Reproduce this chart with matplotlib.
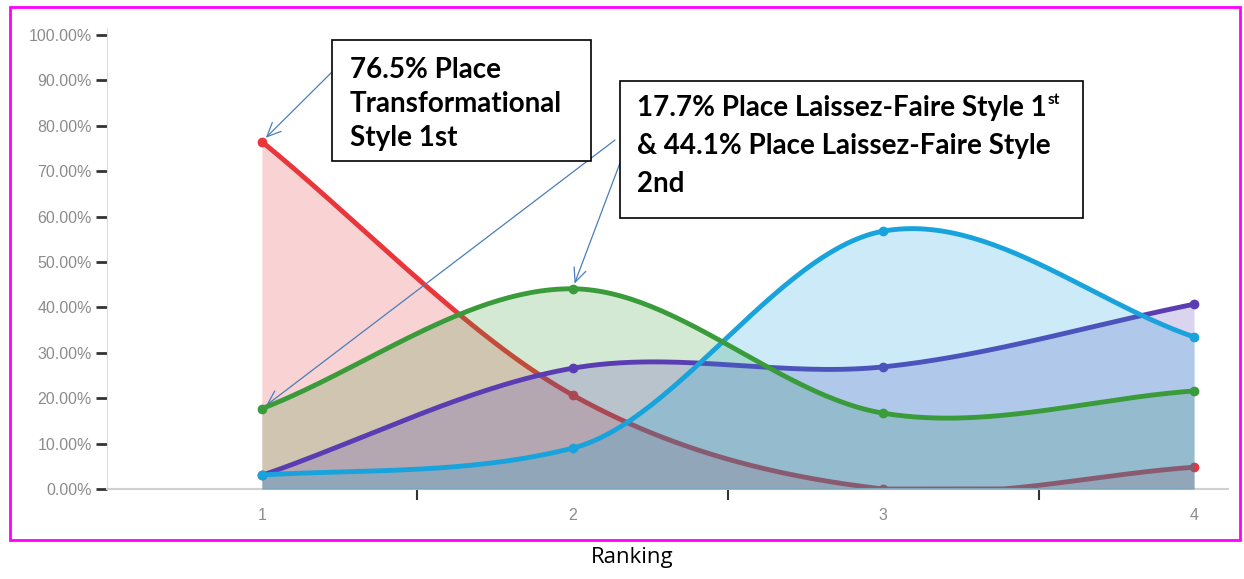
import numpy as np
import matplotlib
matplotlib.use("Agg")
import matplotlib.pyplot as plt
from matplotlib.patches import Rectangle

W, H = 1244, 579

# data (share of respondents, %)
rank = [1, 2, 3, 4]
transformational = [76.5, 20.7, 0.0, 4.8]
laissez_faire = [17.7, 44.1, 16.7, 21.6]
purple_style = [3.0, 26.6, 26.9, 40.7]
blue_style = [3.1, 9.0, 56.8, 33.5]

# values, colour, zorder of fill, zorder of line
series = [
    (transformational, "#e8363a", 1, 2),
    (laissez_faire, "#3a9b3a", 3, 9),
    (purple_style, "#5b3db3", 4, 5),
    (blue_style, "#18a3dc", 6, 7),
]

y_ticks = list(range(0, 101, 10))
y_labels = ["%.2f%%" % v for v in y_ticks]


def smooth(x, y, n=60):
    # catmull-rom inside, chord slope at the two ends
    x = np.asarray(x, float)
    y = np.asarray(y, float)
    d = np.diff(y) / np.diff(x)
    m = np.zeros_like(y)
    m[1:-1] = (y[2:] - y[:-2]) / (x[2:] - x[:-2])
    m[0] = d[0]
    m[-1] = d[-1]
    # avoid small wiggles on clearly rising/falling segments
    for i in range(len(d)):
        if abs(d[i]) > 1:
            a, b = m[i] / d[i], m[i + 1] / d[i]
            if a >= 0 and b >= 0 and a * a + b * b > 9:
                tau = 3 / np.sqrt(a * a + b * b)
                m[i] = tau * a * d[i]
                m[i + 1] = tau * b * d[i]
    xs, ys = [], []
    t = np.linspace(0, 1, n)
    h00 = 2 * t**3 - 3 * t**2 + 1
    h10 = t**3 - 2 * t**2 + t
    h01 = -2 * t**3 + 3 * t**2
    h11 = t**3 - t**2
    for i in range(len(x) - 1):
        h = x[i + 1] - x[i]
        ys.append(h00 * y[i] + h10 * h * m[i] + h01 * y[i + 1] + h11 * h * m[i + 1])
        xs.append(x[i] + t * h)
    return np.concatenate(xs), np.maximum(np.concatenate(ys), 0)


fig = plt.figure(figsize=(W / 100, H / 100), dpi=100)
ax = fig.add_axes([107 / W, (H - 489) / H, (1228 - 107) / W, (489 - 28) / H])

for vals, col, zf, zl in series:
    xs, ys = smooth(rank, vals)
    ax.fill_between(xs, 0, ys, color=col, alpha=0.22, lw=0, zorder=zf)
    ax.plot(xs, ys, color=col, lw=3.5, solid_capstyle="round", zorder=zl)
    ax.plot(rank, vals, "o", color=col, ms=6, zorder=zl)

ax.set_xlim(1 - (262 - 107) / 311, 4 + (1228 - 1194) / 311)
ax.set_ylim(0, 100 + (35 - 28) / 4.54)

ax.set_yticks(y_ticks)
ax.set_yticklabels(y_labels, fontsize=11.5, color="#8c8c8c", family="Liberation Sans")
ax.tick_params(axis="y", length=8, width=2, color="#333333", pad=3)
ax.set_xticks([1.5, 2.5, 3.5])
ax.set_xticklabels([])
ax.tick_params(axis="x", length=8, width=1.5, color="#333333", direction="out")
for r in rank:
    ax.text(r, -5.8, str(r), ha="center", va="center", fontsize=11.5,
            color="#8c8c8c", family="Liberation Sans")

for s in ["top", "right"]:
    ax.spines[s].set_visible(False)
ax.spines["left"].set_color("#dddddd")
ax.spines["bottom"].set_color("#d0d0d0")
ax.spines["bottom"].set_linewidth(1.5)


def fx(px):
    return px / W


def fy(py):
    return 1 - py / H


# magenta frame
fig.patches.append(Rectangle((fx(10), fy(540)), fx(1240) - fx(10), fy(7) - fy(540),
                             transform=fig.transFigure, fill=False, ec="#ff00ff", lw=2))

# annotation boxes
fig.patches.append(Rectangle((fx(332), fy(161)), fx(591) - fx(332), fy(40) - fy(161),
                             transform=fig.transFigure, fill=True, fc="white", ec="black",
                             lw=1.2, zorder=5))
fig.patches.append(Rectangle((fx(620), fy(218)), fx(1083) - fx(620), fy(81) - fy(218),
                             transform=fig.transFigure, fill=True, fc="white", ec="black",
                             lw=1.2, zorder=5))

tkw = dict(fontsize=20, fontweight="bold", family="Lato", va="center", ha="left", zorder=6)
for i, line in enumerate(["76.5% Place", "Transformational", "Style 1st"]):
    fig.text(fx(350), fy(70 + 34 * i), line, **tkw)
lines2 = ["17.7% Place Laissez-Faire Style 1", "& 44.1% Place Laissez-Faire Style", "2nd"]
first = None
for i, line in enumerate(lines2):
    t = fig.text(fx(637), fy(108 + 38 * i), line, **tkw)
    if i == 0:
        first = t
fig.canvas.draw()
bb = first.get_window_extent()
fig.text(bb.x1 / W + 0.001, fy(100), "st", fontsize=11, fontweight="bold", family="Lato",
         va="center", ha="left", zorder=6)

arrow = dict(arrowstyle="->,head_length=1.0,head_width=0.45", color="#4a7ebb", lw=0.9,
             shrinkA=0, shrinkB=4)
ax.annotate("", xy=(1, transformational[0]), xycoords="data",
            xytext=(fx(332), fy(72)), textcoords="figure fraction", arrowprops=arrow)
ax.annotate("", xy=(1, laissez_faire[0]), xycoords="data",
            xytext=(fx(615), fy(140)), textcoords="figure fraction", arrowprops=arrow)
ax.annotate("", xy=(2, laissez_faire[1]), xycoords="data",
            xytext=(fx(620), fy(163)), textcoords="figure fraction", arrowprops=arrow)

fig.text(fx(632), fy(558), "Ranking", fontsize=16, family="Open Sans", ha="center", va="center")

fig.savefig("out.png", dpi=100)
